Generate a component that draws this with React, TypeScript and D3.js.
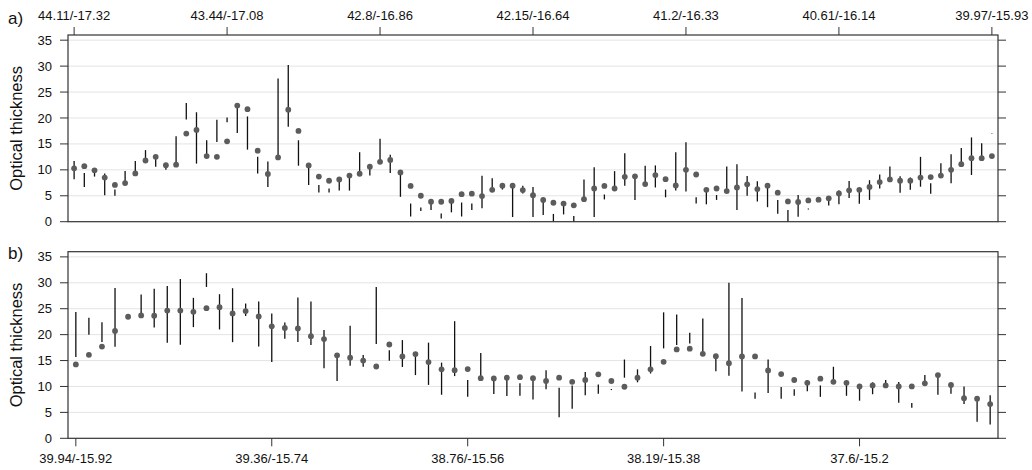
import React from "react";
import * as d3 from "d3";

// ---------- data ----------
const topTickLabels = ["44.11/-17.32", "43.44/-17.08", "42.8/-16.86", "42.15/-16.64", "41.2/-16.33", "40.61/-16.14", "39.97/-15.93"];
const bottomTickLabels = ["39.94/-15.92", "39.36/-15.74", "38.76/-15.56", "38.19/-15.38", "37.6/-15.2"];
const yTicks = [0, 5, 10, 15, 20, 25, 30, 35];

const aPoint = [10.3, 10.7, 9.9, 8.5, 7.1, 7.45, 9.3, 11.8, 12.5, 10.9, 11.0, 17.0, 17.7, 12.65, 12.5, 15.5, 22.4, 21.7, 13.7, 9.2,
  12.4, 21.6, 17.5, 10.85, 8.7, 7.9, 8.15, 8.9, 9.25, 10.6, 11.55, 11.9, 9.5, 6.9, 5.0, 3.85, 3.85, 4.0, 5.3, 5.4,
  4.95, 6.15, 6.95, 6.95, 6.1, 5.1, 4.2, 3.65, 3.5, 3.15, 4.35, 6.4, 6.9, 6.4, 8.65, 8.75, 7.25, 9.0, 8.2, 7.0,
  10.0, 9.1, 6.15, 6.4, 5.9, 6.6, 7.2, 6.3, 6.95, 5.6, 3.9, 3.8, 4.1, 4.25, 4.5, 5.45, 6.05, 6.15, 6.7, 7.65,
  8.15, 7.9, 7.9, 8.5, 8.6, 8.9, 10.0, 11.1, 12.25, 12.25, 12.65];
const aLo = [8.2, 6.7, 8.7, 5.1, 5.0, 7.45, 9.3, 11.8, 10.6, 10.0, 11.0, 19.7, 11.2, 12.65, 15.35, 19.2, 17.1, 13.9, 9.3, 6.7,
  12.4, 18.3, 10.8, 7.1, 5.65, 5.65, 6.0, 6.0, 9.25, 8.9, 11.55, 9.4, 4.8, 1.0, 2.05, 2.25, 0.6, 1.8, 1.0, 2.25,
  2.6, 6.0, 6.2, 0.9, 5.45, 0.9, 1.3, 0, 1.4, 0, 4.35, 0.9, 4.3, 6.4, 6.95, 4.2, 7.25, 6.6, 4.7, 6.0,
  5.8, 3.5, 3.35, 4.2, 5.9, 2.25, 5.0, 3.9, 2.8, 1.55, 0, 0.95, 2.35, 4.25, 3.1, 3.35, 4.55, 3.45, 4.2, 6.4,
  8.15, 5.6, 6.15, 6.75, 5.4, 8.9, 7.4, 11.1, 9.0, 12.25, 16.95];
const aHi = [11.7, 9.4, 10.3, 9.3, 6.2, 9.8, 11.7, 13.8, 12.5, 10.9, 16.5, 22.9, 21.1, 15.7, 19.65, 20.1, 22.4, 20.3, 12.5, 11.6,
  27.6, 30.2, 15.7, 10.85, 7.1, 6.4, 7.7, 8.9, 13.4, 10.6, 16.0, 12.9, 9.5, 3.5, 2.75, 3.85, 1.6, 4.0, 3.7, 3.5,
  8.85, 8.4, 7.45, 6.95, 6.95, 6.7, 4.2, 1.5, 3.5, 1.1, 8.15, 10.5, 5.25, 9.75, 13.2, 8.75, 10.8, 10.85, 6.2, 13.4,
  15.3, 4.7, 6.15, 5.15, 10.65, 11.1, 8.8, 7.8, 6.95, 4.2, 2.25, 5.15, 2.55, 4.25, 4.5, 6.0, 7.85, 6.15, 8.0, 9.1,
  10.65, 8.75, 8.5, 12.5, 7.4, 11.25, 13.0, 14.2, 16.25, 15.15, 17.05];

const bPoint = [14.26, 16.1, 17.7, 20.7, 23.45, 23.7, 23.65, 24.65, 24.65, 24.4, 25.1, 25.3, 24.1, 24.55, 23.5, 21.6, 21.3, 21.2, 19.7, 19.15,
  16.0, 15.55, 15.0, 13.85, 18.1, 15.8, 16.25, 14.7, 13.3, 13.15, 13.35, 11.6, 11.55, 11.7, 11.8, 11.6, 11.05, 11.7, 10.9, 11.25,
  12.35, 11.05, 9.95, 11.7, 13.3, 14.75, 17.15, 17.3, 16.3, 15.85, 14.5, 15.8, 15.8, 13.1, 12.4, 11.25, 10.7, 11.5, 10.9, 10.7,
  10.0, 10.2, 10.2, 10.0, 10.0, 10.6, 12.2, 10.3, 7.75, 7.65, 6.6];
const bLo = [15.7, 20.0, 18.6, 17.65, 23.45, 23.7, 21.4, 18.45, 18.05, 21.45, 29.2, 21.0, 18.55, 23.6, 17.7, 14.7, 19.2, 18.6, 18.0, 13.5,
  11.05, 14.0, 13.8, 18.2, 14.95, 13.75, 12.2, 10.3, 8.4, 12.0, 8.0, 11.6, 8.55, 8.15, 8.2, 7.5, 9.45, 4.05, 5.7, 8.3,
  8.6, 9.3, 11.7, 10.8, 12.5, 17.35, 18.0, 18.3, 16.3, 12.95, 12.05, 9.05, 7.65, 8.75, 7.65, 8.2, 9.1, 8.0, 10.9, 8.2,
  7.25, 8.5, 10.2, 6.85, 5.9, 10.6, 8.4, 8.6, 6.6, 3.2, 2.65];
const bHi = [24.35, 23.25, 22.4, 29.0, 23.45, 27.75, 28.85, 29.4, 30.75, 27.1, 31.85, 27.8, 28.95, 26.0, 26.4, 24.1, 22.35, 27.15, 26.4, 20.9,
  16.0, 21.7, 16.05, 29.2, 17.0, 18.95, 16.25, 18.45, 14.6, 22.6, 11.25, 16.45, 11.55, 11.7, 10.6, 11.6, 13.15, 9.75, 10.2, 12.8,
  10.4, 9.5, 15.2, 13.3, 17.8, 24.3, 23.9, 20.35, 23.1, 15.85, 30.0, 27.05, 8.85, 15.2, 9.9, 9.45, 11.25, 10.2, 13.8, 10.7,
  10.0, 10.8, 11.25, 10.85, 6.8, 12.2, 12.2, 10.3, 10.0, 7.65, 8.3];

// ---------- layout ----------
const W = 1032, H = 470;
const X0 = 68, X1 = 998;
const FONT = "'Liberation Sans', Arial, Helvetica, sans-serif";
const TICK = 8;

type PanelProps = {
  top: number; bottom: number; pts: number[]; lo: number[]; hi: number[];
  tickLabels: string[]; tickSide: "top" | "bottom"; letter: string; letterY: number;
};

function Panel({ top, bottom, pts, lo, hi, tickLabels, tickSide, letter, letterY }: PanelProps) {
  const n = pts.length;
  const x = d3.scaleLinear().domain([-0.6, n - 1 + 0.6]).range([X0, X1]);
  const y = d3.scaleLinear().domain([0, 36]).range([bottom, top]);
  const idx = d3.range(n);
  const tickIdx = tickLabels.map((_, i) => i * 15);
  const midY = (top + bottom) / 2;
  return (
    <g>
      {yTicks.filter(t => t > 0).map(t => (
        <line key={"g" + t} x1={X0} x2={X1} y1={y(t)} y2={y(t)} stroke="#e4e4e4" strokeWidth={1} />
      ))}
      {idx.map(i => (
        <line key={"s" + i} x1={x(i)} x2={x(i)} y1={y(lo[i])} y2={y(hi[i])} stroke="#111" strokeWidth={1.3} />
      ))}
      {idx.map(i => (
        <circle key={"p" + i} cx={x(i)} cy={y(pts[i])} r={2.9} fill="#5c5c5c" />
      ))}
      <rect x={X0} y={top} width={X1 - X0} height={bottom - top} fill="none" stroke="#333" strokeWidth={1.2} />
      {yTicks.map(t => (
        <g key={"yt" + t}>
          <line x1={X0 - TICK} x2={X0} y1={y(t)} y2={y(t)} stroke="#333" strokeWidth={1} />
          <line x1={X1} x2={X1 + TICK} y1={y(t)} y2={y(t)} stroke="#333" strokeWidth={1} />
          <text x={X0 - 16} y={y(t)} dy="0.35em" textAnchor="end" fontSize={13} fontFamily={FONT} fill="#111">{t}</text>
        </g>
      ))}
      {tickIdx.map((ti, k) => (
        <g key={"xt" + k}>
          {tickSide === "top" ? (
            <>
              <line x1={x(ti)} x2={x(ti)} y1={top} y2={top - TICK} stroke="#333" strokeWidth={1} />
              <text x={x(ti)} y={top - 15} textAnchor="middle" fontSize={13} fontFamily={FONT} fill="#111">{tickLabels[k]}</text>
            </>
          ) : (
            <>
              <line x1={x(ti)} x2={x(ti)} y1={bottom} y2={bottom + TICK} stroke="#333" strokeWidth={1} />
              <text x={x(ti)} y={bottom + 25} textAnchor="middle" fontSize={13} fontFamily={FONT} fill="#111">{tickLabels[k]}</text>
            </>
          )}
        </g>
      ))}
      <text transform={`translate(22,${midY}) rotate(-90)`} textAnchor="middle" fontSize={16.5} fontFamily={FONT} fill="#111">Optical thickness</text>
      <text x={8} y={letterY} fontSize={17} fontFamily={FONT} fill="#111">{letter}</text>
    </g>
  );
}

export default function App() {
  return (
    <svg width={W} height={H} style={{ position: "absolute", left: 0, top: 0, background: "#fff" }}>
      <rect x={0} y={0} width={W} height={H} fill="#fff" />
      <Panel top={35} bottom={221.7} pts={aPoint} lo={aLo} hi={aHi} tickLabels={topTickLabels} tickSide="top" letter="a)" letterY={24} />
      <Panel top={251.7} bottom={438.3} pts={bPoint} lo={bLo} hi={bHi} tickLabels={bottomTickLabels} tickSide="bottom" letter="b)" letterY={259} />
    </svg>
  );
}
